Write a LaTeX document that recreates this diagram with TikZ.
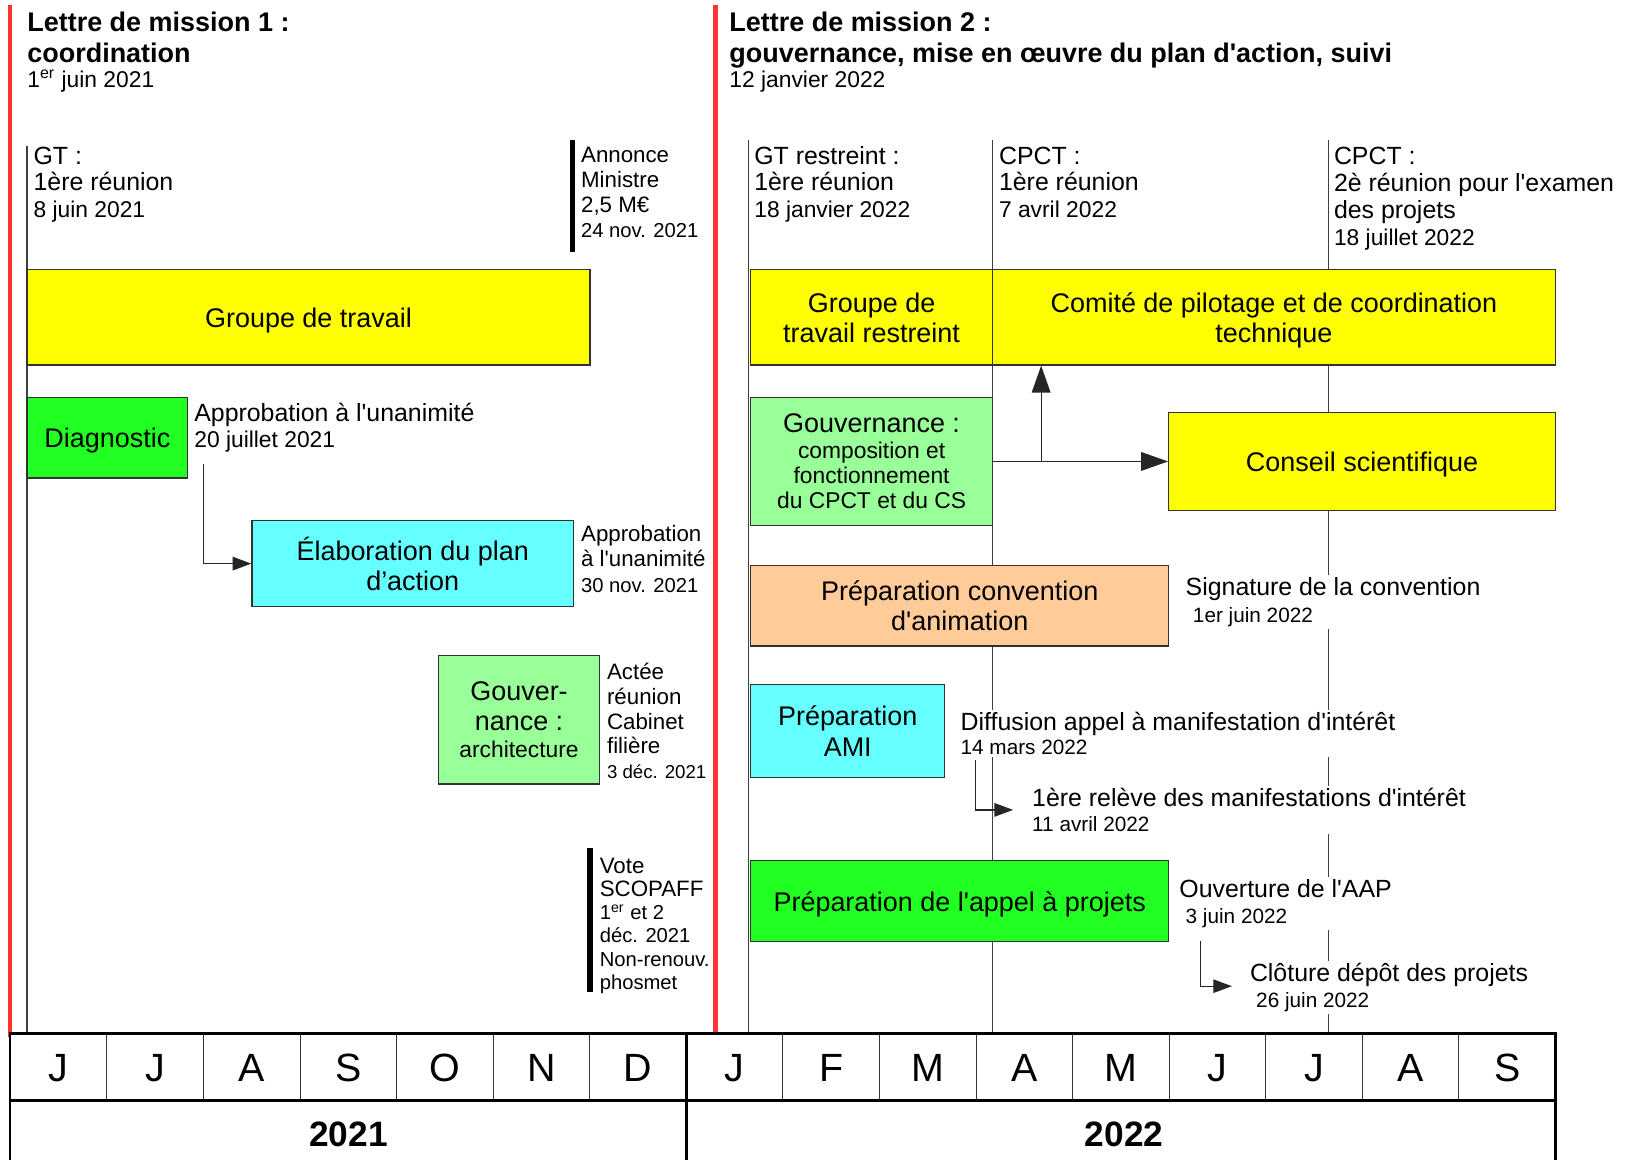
\documentclass[tikz,border=0pt]{standalone}
\usepackage{fontspec}
\setmainfont{Liberation Sans}
\usetikzlibrary{arrows.meta}
\definecolor{cyel}{HTML}{FFFF00}
\definecolor{cgrn}{HTML}{22FF22}
\definecolor{clgrn}{HTML}{99FF99}
\definecolor{ccyan}{HTML}{66FFFF}
\definecolor{corange}{HTML}{FFCC99}
\definecolor{cred}{HTML}{FF3333}
\newcommand{\fsz}[1]{\fontsize{#1}{#1}\selectfont}
\newcommand{\ap}{\textquotesingle}
\begin{document}
\begin{tikzpicture}[x=0.5pt,y=-0.5pt,
  box/.style={draw=black!80, line width=0.6pt, inner sep=0pt, align=center, text depth=0pt,
    font=\fontsize{13}{14.5}\selectfont},
  bw/.style={minimum width={(#1)*0.5pt}},
  bh/.style={minimum height={(#1)*0.5pt}},
  lbl/.style={anchor=base west, align=left, fill=white, inner sep=1pt, xshift=-1pt,
    font=\fontsize{12}{12.75}\selectfont},
  title/.style={anchor=base west, align=left, inner sep=0pt,
    font=\bfseries\fontsize{13}{15}\selectfont},
  redline/.style={draw=cred, line width=2pt},
  tline/.style={draw=black!75, line width=0.6pt},
  bar/.style={draw=black, line width=2.6pt},
  conn/.style={draw=black!85, line width=0.6pt},
  arrS/.style={-{Triangle[length=9pt,width=6.5pt]}},
  arrB/.style={-{Triangle[length=13pt,width=9pt]}},
  gridthin/.style={draw=black!80, line width=0.5pt},
  gridthick/.style={draw=black, line width=1.5pt},
  month/.style={inner sep=0pt, font=\fontsize{19}{19}\selectfont},
  year/.style={inner sep=0pt, font=\bfseries\fontsize{17}{17}\selectfont}
]
\useasboundingbox (0,0) rectangle (1568,1119);

% red mission lines
\draw[redline] (10,5) -- (10,1000);
\draw[redline] (690,5) -- (690,997);

% timeline verticals
\draw[tline] (26,141) -- (26,997);
\draw[tline] (722,135) -- (722,997);
\draw[tline] (957,135) -- (957,997);
\draw[tline] (1281,135) -- (1281,997);

% black bars
\draw[bar] (552,135) -- (552,243);
\draw[bar] (569,818) -- (569,957);

% titles
\node[title] (t1) at (26,60) {Lettre de mission 1 :\\coordination};
\node[anchor=base west, inner sep=0pt, font=\fsz{11}] (t1d) at (26,84) {1\textsuperscript{er} juin 2021};
\node[title] (t2) at (703,60) {Lettre de mission 2 :\\gouvernance, mise en œuvre du plan d\ap action, suivi};
\node[anchor=base west, inner sep=0pt, font=\fsz{11}] (t2d) at (703,84) {12 janvier 2022};

% boxes
\node[box, fill=cyel, bw=543, bh=92] (gt) at (297.5,306) {Groupe de travail};
\node[box, fill=cgrn, bw=155, bh=78] (diag) at (103.5,422) {Diagnostic};
\node[box, fill=ccyan, bw=310, bh=83] (elab) at (398,543.5) {Élaboration du plan\\d’action};
\node[box, fill=clgrn, bw=155, bh=124] (gouv1) at (500.5,694) {Gouver-\\nance :\\[-1.25pt]{\fsz{11}architecture}};
\node[box, fill=cyel, bw=233, bh=92] (gtrb) at (840.5,306) {Groupe de\\travail restreint};
\node[box, fill=cyel, bw=543, bh=92] (com) at (1228.5,306) {Comité de pilotage et de coordination\\technique};
\node[box, fill=clgrn, bw=233, bh=124, font=\fontsize{11}{12.25}\selectfont] (gouv2) at (840.5,445)
  {{\fsz{13}Gouvernance :}\\composition et\\fonctionnement\\du CPCT et du CS};
\node[box, fill=cyel, bw=373, bh=94] (cs) at (1313.5,445) {Conseil scientifique};
\node[box, fill=corange, bw=403, bh=78] (conv) at (925.5,584) {Préparation convention\\d\ap animation};
\node[box, fill=ccyan, bw=187, bh=90] (ami) at (817.5,705) {Préparation\\AMI};
\node[box, fill=cgrn, bw=403, bh=78] (aap) at (925.5,869) {Préparation de l\ap appel à projets};

% connectors
\coordinate (d1) at (196,447);
\draw[conn, arrS] (d1) |- (elab.west);
\draw[conn, arrB] (gouv2.east) -- (cs.west);
\coordinate (br) at (1004,445);
\draw[conn, arrB] (br) -- (br |- com.south);
\coordinate (a1) at (941,733);
\coordinate (a2) at (977,781);
\draw[conn, arrS] (a1) |- (a2);
\coordinate (c1) at (1158,907);
\coordinate (c2) at (1188,951);
\draw[conn, arrS] (c1) |- (c2);

% left labels (positions = baseline of last line)
\node[lbl] (gtl) at (32,209.5) {GT :\\1ère réunion\\{\fsz{11}8 juin 2021}};
\node[lbl, font=\fontsize{10.75}{12}\selectfont] (ann) at (560,229)
  {Annonce\\Ministre\\2,5 M€\\{\fsz{9.75}24 nov. 2021}};
\node[lbl, font=\fontsize{12}{12.5}\selectfont] (diagl) at (187,431.5)
  {Approbation à l\ap unanimité\\{\fsz{11}20 juillet 2021}};
\node[lbl, font=\fontsize{10.75}{12.25}\selectfont] (elabl) at (560,571)
  {Approbation\\à l\ap unanimité\\{\fsz{9.75}30 nov. 2021}};
\node[lbl, font=\fontsize{10.75}{12}\selectfont] (actl) at (585,751)
  {Actée\\réunion\\Cabinet\\filière\\{\fsz{9}3 déc. 2021}};
\node[lbl, font=\fontsize{10.75}{11.2}\selectfont] (vote) at (578,954)
  {Vote\\SCOPAFF\\{\fsz{9.75}1\textsuperscript{er} et 2}\\{\fsz{9.75}déc. 2021}\\{\fsz{9.75}Non-renouv.}\\{\fsz{9.75}phosmet}};

% right top labels
\node[lbl] (gtrl) at (727,209.5) {GT restreint :\\1ère réunion\\{\fsz{11}18 janvier 2022}};
\node[lbl] (cp1) at (963,209.5) {CPCT :\\1ère réunion\\{\fsz{11}7 avril 2022}};
\node[lbl, font=\fontsize{12}{13}\selectfont] (cp2) at (1286,236.5)
  {CPCT :\\2è réunion pour l\ap examen\\des projets\\{\fsz{11}18 juillet 2022}};

% right event labels
\node[lbl, font=\fontsize{12}{13}\selectfont] (sig) at (1143,600)
  {Signature de la convention\\\hspace*{3.5pt}{\fsz{10}1er juin 2022}};
\node[lbl, font=\fontsize{12}{12}\selectfont] (dif) at (926,728)
  {Diffusion appel à manifestation d\ap intérêt\\{\fsz{10}14 mars 2022}};
\node[lbl, font=\fontsize{12}{12}\selectfont] (rel) at (995,802)
  {1ère relève des manifestations d\ap intérêt\\{\fsz{10}11 avril 2022}};
\node[lbl, font=\fontsize{12}{13}\selectfont] (ouv) at (1137,891)
  {Ouverture de l\ap AAP\\\hspace*{3pt}{\fsz{10}3 juin 2022}};
\node[lbl, font=\fontsize{12}{13}\selectfont] (clo) at (1205,972)
  {Clôture dépôt des projets\\\hspace*{3pt}{\fsz{10}26 juin 2022}};

% month grid
\fill[white] (10,997) rectangle (1500,1119);
\foreach \i in {1,...,15} {
  \draw[gridthin] ({10+93.125*\i},997) -- ({10+93.125*\i},1061);
}
\foreach \m [count=\i from 0] in {J,J,A,S,O,N,D,J,F,M,A,M,J,J,A,S} {
  \node[month] (m\i) at ({10+93.125*(\i+0.5)},1030) {\m};
}
\draw[gridthick] (9,997) -- (1501,997);
\draw[gridthick] (9,1061) -- (1501,1061);
\draw[gridthick] (662,997) -- (662,1119);
\draw[gridthick] (1500,997) -- (1500,1119);
\draw[draw=black, line width=1pt] (10,997) -- (10,1119);
\node[year] (y1) at (336,1094) {2021};
\node[year] (y2) at (1084,1094) {2022};
\end{tikzpicture}
\end{document}
